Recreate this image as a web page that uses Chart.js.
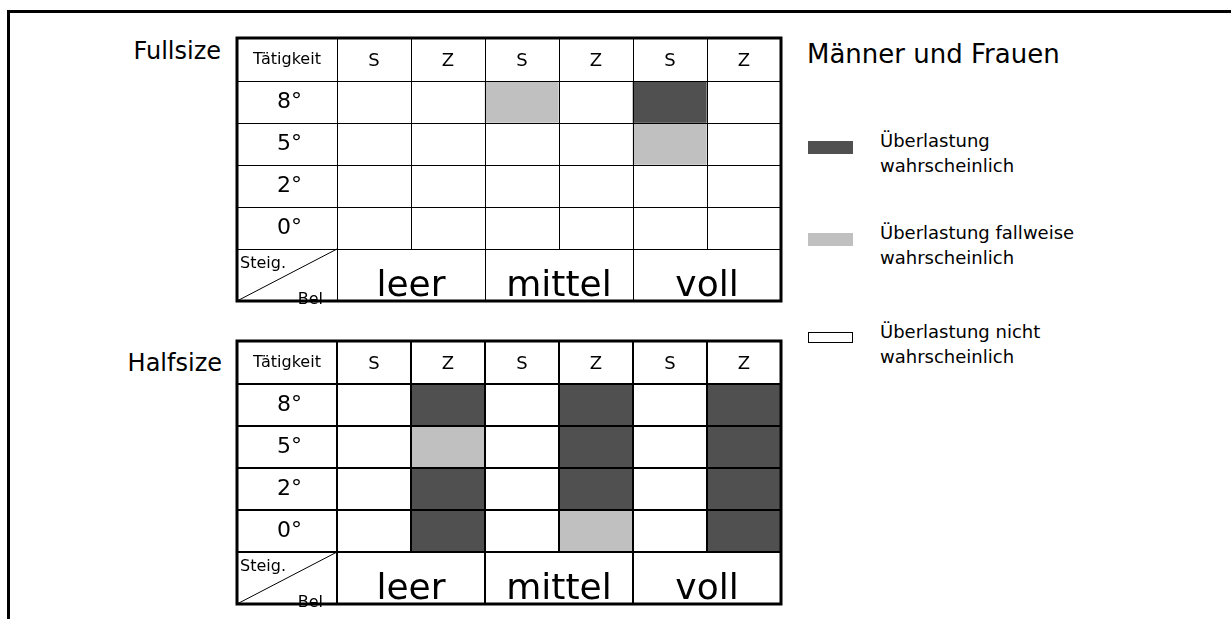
<!DOCTYPE html>
<html>
<head>
<meta charset="utf-8">
<script src="https://cdn.jsdelivr.net/npm/chart.js@4.4.1/dist/chart.umd.min.js"></script>
<style>
body { margin: 0; background: #fff; font-family: "DejaVu Sans", sans-serif; }
#page { position: relative; width: 1231px; height: 619px; overflow: hidden; }
#frame { position: absolute; left: 7px; top: 10px; width: 1300px; height: 700px; border-top: 3px solid #000; border-left: 3px solid #000; }
canvas { position: absolute; }
.lbl { position: absolute; white-space: nowrap; color: #000; }
.swatch { position: absolute; box-sizing: border-box; }
</style>
</head>
<body>
<div id="page">
  <div id="frame"></div>
  <div class="lbl" style="left:0; width:221px; text-align:right; top:36px; font-size:24px; line-height:30px;">Fullsize</div>
  <div class="lbl" style="left:0; width:222px; text-align:right; top:348px; font-size:24px; line-height:30px;">Halfsize</div>
  <div class="lbl" style="left:807px; top:39px; font-size:26px; line-height:30px;">Männer und Frauen</div>
  <canvas id="FullsizeChart" width="554" height="273" style="left:232px; top:33px;"></canvas>
  <canvas id="HalfsizeChart" width="554" height="273" style="left:232px; top:336px;"></canvas>
  <div id="legend"></div>
</div>
<script>
var FONT = 'DejaVu Sans';

var colLabels = ['S', 'Z', 'S', 'Z', 'S', 'Z'];
var groupLabels = ['leer', 'mittel', 'voll'];
var rowLabels = ['8°', '5°', '2°', '0°'];

// 2 = Überlastung wahrscheinlich, 1 = fallweise, 0 = nicht
var fullsizeStatus = [
    [0, 0, 1, 0, 2, 0],
    [0, 0, 0, 0, 1, 0],
    [0, 0, 0, 0, 0, 0],
    [0, 0, 0, 0, 0, 0]
];
var halfsizeStatus = [
    [0, 2, 0, 2, 0, 2],
    [0, 1, 0, 2, 0, 2],
    [0, 2, 0, 2, 0, 2],
    [0, 2, 0, 1, 0, 2]
];

var statusColors = ['#ffffff', '#c0c0c0', '#505050'];
var statusLabels = [
    ['Überlastung nicht', 'wahrscheinlich'],
    ['Überlastung fallweise', 'wahrscheinlich'],
    ['Überlastung', 'wahrscheinlich']
];

// legend, dark first
var legendTops = [141, 233, 332];
var legendEl = document.getElementById('legend');
[2, 1, 0].forEach(function (s, i) {
    var sw = document.createElement('div');
    sw.className = 'swatch';
    sw.style.left = '808px';
    sw.style.top = legendTops[i] + 'px';
    sw.style.width = '45px';
    sw.style.height = s === 0 ? '11px' : '13px';
    sw.style.background = statusColors[s];
    if (s === 0) sw.style.border = '1px solid #000';
    legendEl.appendChild(sw);
    var t = document.createElement('div');
    t.className = 'lbl';
    t.style.left = '880px';
    t.style.top = (legendTops[i] - 13) + 'px';
    t.style.fontSize = '18px';
    t.style.lineHeight = '25px';
    t.innerHTML = statusLabels[s].join('<br>');
    legendEl.appendChild(t);
});

var cornerPlugin = {
    id: 'corner',
    afterDraw: function (chart) {
        var ctx = chart.ctx, area = chart.chartArea;
        var top = chart.scales.x.top, bottom = chart.scales.xg.bottom, left = chart.scales.yl.left;
        ctx.save();
        ctx.fillStyle = '#000';
        ctx.font = '16px "' + FONT + '"';
        ctx.textAlign = 'center';
        ctx.textBaseline = 'middle';
        ctx.fillText('Tätigkeit', (left + area.left) / 2, (top + area.top) / 2);
        ctx.textAlign = 'left';
        ctx.textBaseline = 'alphabetic';
        ctx.fillText('Steig.', left + 3, area.bottom + 19);
        ctx.textAlign = 'right';
        ctx.fillText('Bel', area.left - 14, bottom + 3);
        ctx.strokeStyle = '#000';
        ctx.lineWidth = 1;
        ctx.beginPath();
        ctx.moveTo(left, bottom);
        ctx.lineTo(area.left, area.bottom);
        ctx.stroke();
        ctx.lineWidth = 3;
        ctx.strokeRect(left, top, area.right - left, bottom - top);
        ctx.restore();
    }
};

function makeTable(id, status, lineWidth) {
    // one stacked dataset per row, lowest row first
    var datasets = rowLabels.map(function (row, r) {
        return {
            label: row,
            data: colLabels.map(function () { return 1; }),
            backgroundColor: status[r].map(function (s) { return statusColors[s]; }),
            borderWidth: 0,
            barPercentage: 1,
            categoryPercentage: 1
        };
    }).reverse();

    return new Chart(document.getElementById(id), {
        type: 'bar',
        data: { labels: colLabels, datasets: datasets },
        options: {
            responsive: false,
            animation: false,
            events: [],
            layout: { padding: 5 },
            plugins: { legend: { display: false }, tooltip: { enabled: false } },
            scales: {
                x: {
                    position: 'top', stacked: true, offset: true,
                    grid: { z: 1, offset: true, color: '#000', lineWidth: lineWidth, tickLength: 43, tickColor: '#000' },
                    border: { z: 1, color: '#000', width: lineWidth },
                    ticks: { color: '#000', font: { family: FONT, size: 18 }, padding: -34, maxRotation: 0, autoSkip: false },
                    afterFit: function (s) { s.height = 43; }
                },
                xg: {
                    type: 'category', labels: groupLabels, position: 'bottom', offset: true,
                    grid: { z: 1, offset: true, drawOnChartArea: false, color: '#000', lineWidth: lineWidth, tickLength: 52, tickColor: '#000' },
                    border: { z: 1, color: '#000', width: lineWidth },
                    ticks: { color: '#000', font: { family: FONT, size: 36 }, padding: -36, maxRotation: 0, autoSkip: false },
                    afterFit: function (s) { s.height = 52; }
                },
                y: { display: false, stacked: true, min: 0, max: 4 },
                yl: {
                    type: 'category', labels: rowLabels, position: 'left', offset: true,
                    grid: { z: 1, offset: true, color: '#000', lineWidth: lineWidth, tickLength: 100, tickColor: '#000' },
                    border: { z: 1, color: '#000', width: lineWidth },
                    ticks: { color: '#000', font: { family: FONT, size: 22 }, padding: -65, autoSkip: false },
                    afterFit: function (s) { s.width = 100; }
                }
            }
        },
        plugins: [cornerPlugin]
    });
}

var FullsizeChart = makeTable('FullsizeChart', fullsizeStatus, 1);
var HalfsizeChart = makeTable('HalfsizeChart', halfsizeStatus, 2);
</script>
</body>
</html>
